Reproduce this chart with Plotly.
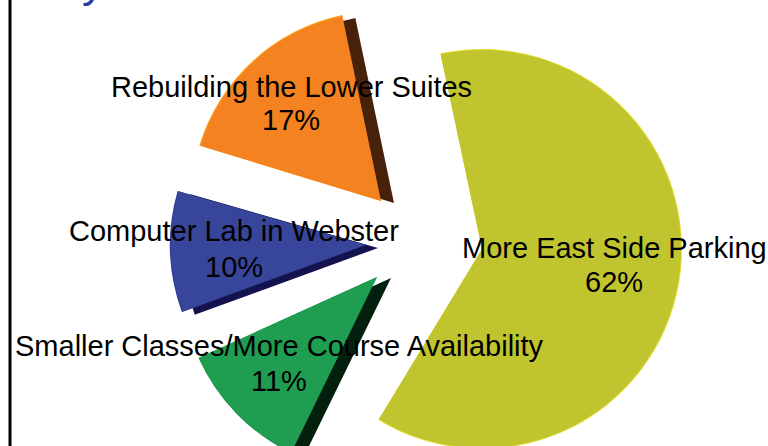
import plotly.graph_objects as go

categories = ["More East Side Parking", "Smaller Classes/More Course Availability",
              "Computer Lab in Webster", "Rebuilding the Lower Suites"]
values = [62, 11, 10, 17]
face_colors = ["#c0c42e", "#1f9e52", "#37459b", "#f58220"]
wall_colors = [None, "#03200f", "#14124f", "#47210a"]
rim_colors = ["#e2de34", "#1a9049", "#2f3c90", "#fbaa20"]

W, H = 768, 510   # the page window shows the top 446 pixels, as the reference crops its slide
# centre x, centre y, radius, start angle, wall offset x, wall offset y (page pixels)
placement = [
    (482, 249, 199, -12, 0, 0),
    (377, 277, 195, -154, 14, 1),
    (366, 245, 195, -110, 12, 3),
    (381, 201, 189, -73, 13, 2),
]
name_pos = [(614, 248), (279, 346), (234, 231), (291, 87)]
share_pos = [(614, 282), (279, 381), (234, 267), (291, 120)]


def slice_trace(value, colour, cx, cy, r, rot):
    return go.Pie(
        values=[value, 100 - value],
        sort=False,
        direction="clockwise",
        rotation=rot,
        marker=dict(colors=[colour, "rgba(0,0,0,0)"], line=dict(width=0)),
        textinfo="none",
        hoverinfo="skip",
        showlegend=False,
        domain=dict(x=[(cx - r) / W, (cx + r) / W],
                    y=[max(0, (H - cy - r) / H), min(1, (H - cy + r) / H)]),
    )


fig = go.Figure()
for v, face, wall, rim, (cx, cy, r, rot, ox, oy) in zip(values, face_colors, wall_colors,
                                                        rim_colors, placement):
    fig.add_trace(slice_trace(v, rim, cx, cy, r + 1, rot))
    if wall:
        fig.add_trace(slice_trace(v, wall, cx + ox, cy + oy, r, rot))
    fig.add_trace(slice_trace(v, face, cx, cy, r, rot))


def label(text, pos):
    return dict(text=text, x=pos[0] / W, y=1 - pos[1] / H, xref="paper", yref="paper",
                xanchor="center", yanchor="middle", showarrow=False,
                font=dict(family="Liberation Sans", size=29, color="black"))


annotations = []
for c, v, np_, sp in zip(categories, values, name_pos, share_pos):
    annotations.append(label(c, np_))
    annotations.append(label(f"{v}%", sp))
annotations.append(dict(text="you most like to see at the", x=80 / W, y=1 - 9 / H,
                        xref="paper", yref="paper", xanchor="left", yanchor="bottom",
                        showarrow=False,
                        font=dict(family="Liberation Sans", size=45, color="#2d3a9a")))

fig.update_layout(
    width=W, height=H,
    margin=dict(l=0, r=0, t=0, b=0),
    paper_bgcolor="white",
    annotations=annotations,
    shapes=[dict(type="line", xref="paper", yref="paper", x0=10 / W, x1=10 / W, y0=0, y1=1,
                 line=dict(color="black", width=3))],
)
fig.write_html("out.html", config={"displayModeBar": False},
               post_script="document.body.style.margin='0';document.body.style.overflow='hidden';"
                           "document.documentElement.style.overflow='hidden';")
